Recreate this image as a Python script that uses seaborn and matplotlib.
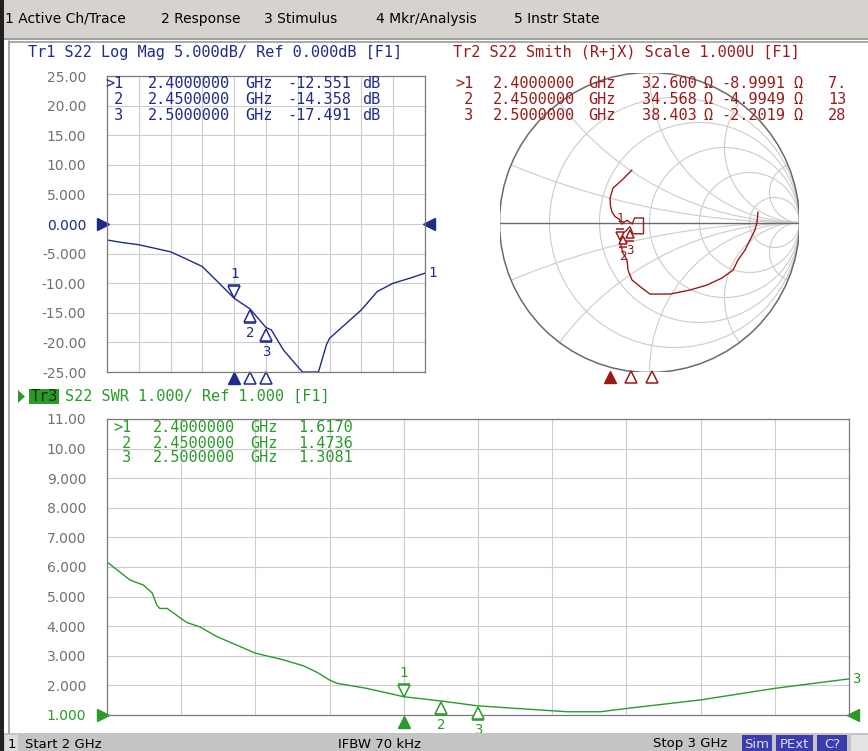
import numpy as np
import pandas as pd
import matplotlib
matplotlib.use("Agg")
import matplotlib.pyplot as plt
import seaborn as sns
from matplotlib.patches import Rectangle, Circle, Polygon
from matplotlib.transforms import offset_copy

# ---------------- data ----------------
lm_freq = [2.00, 2.05, 2.10, 2.15, 2.20, 2.245, 2.30, 2.347, 2.40, 2.45, 2.50, 2.517,
           2.555, 2.60, 2.615, 2.665, 2.69, 2.70, 2.75, 2.80, 2.85, 2.90, 2.95, 3.00]
lm_db = [-2.7, -3.15, -3.5, -4.1, -4.7, -5.8, -7.2, -9.7, -12.551, -14.358, -17.491, -17.9,
         -21.3, -24.1, -25.0, -25.0, -20.4, -19.3, -16.9, -14.5, -11.4, -10.0, -9.2, -8.3]

swr_freq = [2.000, 2.031, 2.049, 2.061, 2.067, 2.071, 2.081, 2.089, 2.098, 2.108, 2.125,
            2.148, 2.200, 2.238, 2.265, 2.284, 2.300, 2.310, 2.350, 2.400, 2.450, 2.500,
            2.547, 2.620, 2.665, 2.700, 2.800, 2.900, 3.000]
swr_val = [6.17, 5.56, 5.39, 5.12, 4.72, 4.60, 4.60, 4.46, 4.29, 4.12, 3.98,
           3.65, 3.09, 2.86, 2.66, 2.43, 2.18, 2.07, 1.90, 1.6170, 1.4736, 1.3081,
           1.23, 1.11, 1.11, 1.22, 1.51, 1.90, 2.22]

sm_re = [0.723, 0.717, 0.703, 0.670, 0.637, 0.590, 0.557, 0.483, 0.383, 0.270, 0.137, 0.003,
         -0.050, -0.117, -0.143, -0.150, -0.177, -0.196, -0.185, -0.178, -0.160, -0.131,
         -0.110, -0.040, -0.040, -0.100, -0.115, -0.150, -0.185, -0.200, -0.230, -0.250,
         -0.260, -0.263, -0.243, -0.183, -0.117]
sm_im = [0.070, 0.003, -0.050, -0.117, -0.183, -0.250, -0.317, -0.370, -0.417, -0.450, -0.477, -0.477,
         -0.437, -0.383, -0.317, -0.250, -0.203, -0.130, -0.100, -0.070, -0.060, -0.028,
         -0.075, -0.075, 0.030, 0.030, -0.010, 0.015, -0.010, 0.020, 0.040, 0.070,
         0.110, 0.163, 0.230, 0.283, 0.350]

mk_freq = [2.40, 2.45, 2.50]
mk_labels = ["1", "2", "3"]
mk_freq_txt = ["2.4000000", "2.4500000", "2.5000000"]
mk_db_txt = ["-12.551", "-14.358", "-17.491"]
mk_db = [-12.551, -14.358, -17.491]
mk_swr_txt = ["1.6170", "1.4736", "1.3081"]
mk_swr = [1.6170, 1.4736, 1.3081]
mk_R_txt = ["32.600", "34.568", "38.403"]
mk_X_txt = ["-8.9991", "-4.9949", "-2.2019"]
mk_C_txt = ["7.", "13", "28"]
mk_R = [32.600, 34.568, 38.403]
mk_X = [-8.9991, -4.9949, -2.2019]

lm_ticks = [25, 20, 15, 10, 5, 0, -5, -10, -15, -20, -25]
lm_ticklabels = ["25.00", "20.00", "15.00", "10.00", "5.000", "0.000", "-5.000",
                 "-10.00", "-15.00", "-20.00", "-25.00"]
swr_ticks = [11, 10, 9, 8, 7, 6, 5, 4, 3, 2, 1]
swr_ticklabels = ["11.00", "10.00", "9.000", "8.000", "7.000", "6.000", "5.000",
                  "4.000", "3.000", "2.000", "1.000"]

menu_items = ["1 Active Ch/Trace", "2 Response", "3 Stimulus", "4 Mkr/Analysis", "5 Instr State"]
title1 = "Tr1 S22 Log Mag 5.000dB/ Ref 0.000dB [F1]"
title2 = "Tr2 S22 Smith (R+jX) Scale 1.000U [F1]"
title3 = "S22 SWR 1.000/ Ref 1.000 [F1]"

# ---------------- style ----------------
sns.set_style("white")
plt.rcParams['font.family'] = ['DejaVu Sans']
MONO = 'DejaVu Sans Mono'
BLUE = '#1f2a8c'
RED = '#9a1a1a'
GREEN = '#2a9a2a'
GRID = '#cccccc'
FRAME = '#7a7a7a'
TICKC = '#707070'

W, H = 868, 751
fig = plt.figure(figsize=(W / 100, H / 100), dpi=100)
fig.patch.set_facecolor('white')


def rect(x0, y0, x1, y1):
    return [x0 / W, 1 - y1 / H, (x1 - x0) / W, (y1 - y0) / H]


def off(tr, dx, dy):
    return offset_copy(tr, fig=fig, x=dx, y=dy, units='dots')


def glyph(ax, x, y, label, color, above, ms=8, fs=10):
    if above:
        ax.plot([x], [y], marker='v', ms=ms, mfc='white', mec=color, mew=1.1,
                transform=off(ax.transData, 0, 6), clip_on=False, zorder=6)
        ax.plot([x], [y], marker='_', ms=ms, mec=color, mew=1.1,
                transform=off(ax.transData, 0, 13), clip_on=False, zorder=6)
        ax.annotate(label, (x, y), xytext=(0, 24), textcoords='offset pixels',
                    ha='center', va='center', color=color, fontsize=fs,
                    family=MONO, annotation_clip=False, zorder=6)
    else:
        ax.plot([x], [y], marker='^', ms=ms, mfc='white', mec=color, mew=1.1,
                transform=off(ax.transData, 0, -7), clip_on=False, zorder=6)
        ax.plot([x], [y], marker='_', ms=ms, mec=color, mew=1.1,
                transform=off(ax.transData, 0, -14), clip_on=False, zorder=6)
        ax.annotate(label, (x, y), xytext=(0, -24), textcoords='offset pixels',
                    ha='center', va='center', color=color, fontsize=fs,
                    family=MONO, annotation_clip=False, zorder=6)


def style_rect_axes(ax, ymin, ymax, ticks, labels, refcolor, refidx):
    ax.set_facecolor('none')
    ax.set_xlim(2, 3)
    ax.set_ylim(ymin, ymax)
    ax.set_xticks(np.linspace(2, 3, 11))
    ax.set_yticks(ticks)
    ax.set_yticklabels(labels)
    ax.grid(True, color=GRID, lw=0.8)
    ax.tick_params(axis='x', length=0, labelbottom=False)
    ax.tick_params(axis='y', length=0, pad=15, labelsize=10, labelcolor=TICKC)
    for s in ax.spines.values():
        s.set_color(FRAME)
        s.set_linewidth(0.9)
    ax.get_yticklabels()[refidx].set_color(refcolor)
    ax.set_xlabel('')
    ax.set_ylabel('')


# ---------------- log mag ----------------
ax1 = fig.add_axes(rect(107, 76, 425, 372))
style_rect_axes(ax1, -25, 25, lm_ticks, lm_ticklabels, BLUE, 5)
sns.lineplot(x=lm_freq, y=lm_db, ax=ax1, color=BLUE, lw=1.0, estimator=None, sort=False)
glyph(ax1, mk_freq[0], mk_db[0], "1", BLUE, True)
glyph(ax1, mk_freq[1], mk_db[1], "2", BLUE, False)
glyph(ax1, mk_freq[2], mk_db[2], "3", BLUE, False)
ax1.plot(mk_freq[:1], [0], marker='^', ms=8, color=BLUE, ls='none',
         transform=off(ax1.get_xaxis_transform(), 0, -6), clip_on=False)
ax1.plot(mk_freq[1:], [0, 0], marker='^', ms=8, mfc='white', mec=BLUE, mew=1.1, ls='none',
         transform=off(ax1.get_xaxis_transform(), 0, -6), clip_on=False)
ax1.plot([0], [0], marker='>', ms=8, color=BLUE, transform=off(ax1.get_yaxis_transform(), -4, 0),
         clip_on=False)
ax1.plot([1], [0], marker='<', ms=8, color=BLUE, transform=off(ax1.get_yaxis_transform(), 4, 0),
         clip_on=False)
ax1.annotate("1", (lm_freq[-1], lm_db[-1]), xytext=(3, 0), textcoords='offset pixels',
             ha='left', va='center', color=BLUE, fontsize=10, family=MONO, annotation_clip=False)

# ---------------- SWR ----------------
ax3 = fig.add_axes(rect(107, 419, 849, 715))
style_rect_axes(ax3, 1, 11, swr_ticks, swr_ticklabels, GREEN, 10)
sns.lineplot(x=swr_freq, y=swr_val, ax=ax3, color=GREEN, lw=1.0, estimator=None, sort=False)
glyph(ax3, mk_freq[0], mk_swr[0], "1", GREEN, True)
glyph(ax3, mk_freq[1], mk_swr[1], "2", GREEN, False)
glyph(ax3, mk_freq[2], mk_swr[2], "3", GREEN, False)
ax3.plot(mk_freq[:1], [0], marker='^', ms=8, color=GREEN, ls='none',
         transform=off(ax3.get_xaxis_transform(), 0, -7), clip_on=False)
ax3.plot([0], [1], marker='>', ms=8, color=GREEN, transform=off(ax3.get_yaxis_transform(), -4, 0),
         clip_on=False)
ax3.plot([1], [1], marker='<', ms=8, color=GREEN, transform=off(ax3.get_yaxis_transform(), 4, 0),
         clip_on=False)
ax3.annotate("3", (swr_freq[-1], swr_val[-1]), xytext=(3, 0), textcoords='offset pixels',
             ha='left', va='center', color=GREEN, fontsize=10, family=MONO, annotation_clip=False)

# ---------------- Smith ----------------
ax2 = fig.add_axes(rect(499.5, 72.5, 799.5, 372.5))
ax2.set_facecolor('none')
ax2.set_xlim(-1, 1)
ax2.set_ylim(-1, 1)
ax2.set_aspect('equal')
ax2.axis('off')
unit = Circle((0, 0), 1, transform=ax2.transData, facecolor='none', edgecolor='none')
ax2.add_patch(unit)
for r in [0.2, 0.5, 1, 2, 5]:
    c = Circle((r / (1 + r), 0), 1 / (1 + r), fill=False, ec=GRID, lw=0.8)
    ax2.add_patch(c)
for x in [0.2, 0.5, 1, 2, 5, -0.2, -0.5, -1, -2, -5]:
    c = Circle((1, 1 / x), 1 / abs(x), fill=False, ec=GRID, lw=0.8)
    ax2.add_patch(c)
    c.set_clip_path(unit)
ax2.add_patch(Circle((0, 0), 1, fill=False, ec='#6a6a6a', lw=1.1))
ax2.plot([-1, 1], [0, 0], color='#6a6a6a', lw=1.0)
sns.lineplot(x=sm_re, y=sm_im, ax=ax2, color=RED, lw=1.0, estimator=None, sort=False)
g_mk = []
for R, X in zip(mk_R, mk_X):
    z = complex(R, X) / 50.0
    g_mk.append((z - 1) / (z + 1))
glyph(ax2, g_mk[0].real, g_mk[0].imag, "1", RED, True, ms=6, fs=9)
glyph(ax2, g_mk[1].real, g_mk[1].imag, "2", RED, False, ms=6, fs=9)
glyph(ax2, g_mk[2].real, g_mk[2].imag, "3", RED, False, ms=6, fs=9)

# ---------------- overlay (chrome + texts) ----------------
ov = fig.add_axes([0, 0, 1, 1], zorder=10)
ov.set_facecolor('none')
ov.set_xlim(0, W)
ov.set_ylim(H, 0)
ov.axis('off')

# menu bar
ov.add_patch(Rectangle((0, 0), W, 38, color='#d6d3ce', lw=0))
ov.add_patch(Rectangle((0, 38), W, 2, color='#a0a0a0', lw=0))
menu_x = [5, 161, 264, 376, 514]
for mx, item in zip(menu_x, menu_items):
    ov.text(mx, 19, item, ha='left', va='center', fontsize=10, color='black')
# frame lines
ov.add_patch(Rectangle((0, 0), 3.5, H, color='#202020', lw=0))
ov.plot([9, 9], [41, 733], color='#9a9a9a', lw=1.2)
ov.plot([9, W], [41.5, 41.5], color='#9a9a9a', lw=1.2)

# status bar
ov.add_patch(Rectangle((4, 733), W - 4, H - 733, color='#c4c4c4', lw=0))
ov.add_patch(Rectangle((5, 735), 13, 16, color='#dcdcdc', lw=0))
ov.text(11.5, 744, "1", ha='center', va='center', fontsize=9.5, color='black')
ov.text(25, 744, "Start 2 GHz", ha='left', va='center', fontsize=9.5, color='black')
ov.text(338, 744, "IFBW 70 kHz", ha='left', va='center', fontsize=9.5, color='black')
ov.text(653, 744, "Stop 3 GHz", ha='left', va='center', fontsize=9.5, color='black')
for (bx0, bx1, lab) in [(742, 772, "Sim"), (776, 813, "PExt"), (817, 847, "C?")]:
    ov.add_patch(Rectangle((bx0, 735), bx1 - bx0, 16, color='#3c3cac', lw=0))
    ov.text((bx0 + bx1) / 2, 744, lab, ha='center', va='center', fontsize=9.5, color='#dcdcff')
ov.add_patch(Rectangle((851, 735), W - 851, 16, color='#e4e4e4', lw=0))

# titles
ov.text(28, 53, title1, ha='left', va='center', fontsize=11, family=MONO, color=BLUE)
ov.text(453, 53, title2, ha='left', va='center', fontsize=11, family=MONO, color=RED)
ov.add_patch(Polygon([[18, 390], [18, 403], [25, 396.5]], closed=True, color=GREEN, lw=0))
ov.add_patch(Rectangle((29, 389), 30, 15, color=GREEN, lw=0))
ov.text(44, 396.5, "Tr3", ha='center', va='center', fontsize=11, family=MONO, color='#0b2f0b')
ov.text(65, 396.5, title3, ha='left', va='center', fontsize=11, family=MONO, color=GREEN)

# marker tables
lm_rows = [84, 100, 115]
for i in range(3):
    lead = ">1" if i == 0 else " " + mk_labels[i]
    ov.text(105, lm_rows[i], lead, ha='left', va='center', fontsize=11, family=MONO, color=BLUE)
    ov.text(148, lm_rows[i], mk_freq_txt[i], ha='left', va='center', fontsize=11, family=MONO, color=BLUE)
    ov.text(245, lm_rows[i], "GHz", ha='left', va='center', fontsize=11, family=MONO, color=BLUE)
    ov.text(287, lm_rows[i], mk_db_txt[i], ha='left', va='center', fontsize=11, family=MONO, color=BLUE)
    ov.text(362, lm_rows[i], "dB", ha='left', va='center', fontsize=11, family=MONO, color=BLUE)

clip = Rectangle((0, 0), 847, H, transform=ov.transData)
for i in range(3):
    lead = ">1" if i == 0 else " " + mk_labels[i]
    ov.text(455, lm_rows[i], lead, ha='left', va='center', fontsize=11, family=MONO, color=RED)
    ov.text(493, lm_rows[i], mk_freq_txt[i], ha='left', va='center', fontsize=11, family=MONO, color=RED)
    ov.text(588, lm_rows[i], "GHz", ha='left', va='center', fontsize=11, family=MONO, color=RED)
    ov.text(642, lm_rows[i], mk_R_txt[i], ha='left', va='center', fontsize=11, family=MONO, color=RED)
    ov.text(704, lm_rows[i], "\u03a9", ha='left', va='center', fontsize=11, family=MONO, color=RED)
    ov.text(721, lm_rows[i], mk_X_txt[i], ha='left', va='center', fontsize=11, family=MONO, color=RED)
    ov.text(793, lm_rows[i], "\u03a9", ha='left', va='center', fontsize=11, family=MONO, color=RED)
    t = ov.text(828, lm_rows[i], mk_C_txt[i], ha='left', va='center', fontsize=11, family=MONO, color=RED)
    t.set_clip_path(clip)
    t.set_clip_on(True)

swr_rows = [428, 443, 458]
for i in range(3):
    lead = ">1" if i == 0 else " " + mk_labels[i]
    ov.text(113, swr_rows[i], lead, ha='left', va='center', fontsize=11, family=MONO, color=GREEN)
    ov.text(153, swr_rows[i], mk_freq_txt[i], ha='left', va='center', fontsize=11, family=MONO, color=GREEN)
    ov.text(250, swr_rows[i], "GHz", ha='left', va='center', fontsize=11, family=MONO, color=GREEN)
    ov.text(298, swr_rows[i], mk_swr_txt[i], ha='left', va='center', fontsize=11, family=MONO, color=GREEN)

# Smith stimulus marker indicators
sm_mk_x = [610 + (f - mk_freq[0]) * 420 for f in mk_freq]
ov.plot(sm_mk_x[:1], [377], marker='^', ms=8, color=RED, ls='none')
ov.plot(sm_mk_x[1:], [377, 377], marker='^', ms=8, mfc='white', mec=RED, mew=1.1, ls='none')

fig.savefig("out.png", dpi=100, facecolor='white')
